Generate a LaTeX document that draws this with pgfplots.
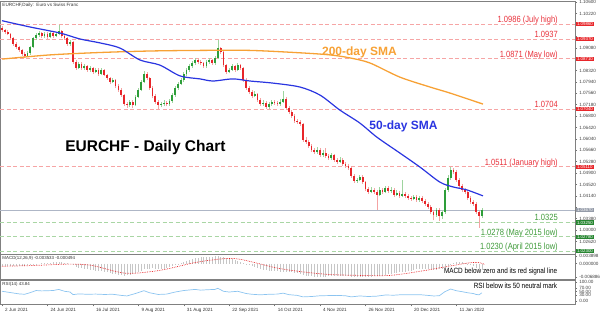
\documentclass[border=0pt]{standalone}
\usepackage{pgfplots}
\pgfplotsset{compat=1.18}
\usepackage{pgfplotstable}
\usepackage{fontspec}
\setmainfont{Liberation Sans}
\newfontfamily\narrowfont[FakeStretch=0.84]{Liberation Sans}
\definecolor{upbody}{HTML}{2E9E3A}
\definecolor{upwick}{HTML}{9ED49E}
\definecolor{dnbody}{HTML}{E8262A}
\definecolor{dnwick}{HTML}{F4A3A3}
\definecolor{reslvl}{HTML}{F6A5A5}
\definecolor{suplvl}{HTML}{A9D6A4}
\definecolor{restxt}{HTML}{E8303A}
\definecolor{suptxt}{HTML}{3F9B3A}
\definecolor{smablue}{HTML}{2A35E0}
\definecolor{smaorange}{HTML}{F7A135}
\definecolor{framec}{HTML}{808080}
\definecolor{rsiblue}{HTML}{8CC4F0}
\definecolor{histgray}{HTML}{C6C6C6}
\definecolor{curprice}{HTML}{AEB6C6}

\pgfplotstableread{
i o h l c
9 1.0880 1.0896 1.0876 1.0890
10 1.0890 1.0915 1.0885 1.0910
11 1.0910 1.0945 1.0906 1.0940
12 1.0940 1.0958 1.0934 1.0950
13 1.0950 1.0964 1.0944 1.0957
15 1.0947 1.0960 1.0942 1.0954
17 1.0944 1.0963 1.0940 1.0957
19 1.0947 1.0961 1.0943 1.0954
20 1.0954 1.0984 1.0950 1.0964
24 1.0920 1.0934 1.0914 1.0927
27 1.0840 1.0862 1.0836 1.0854
29 1.0840 1.0855 1.0835 1.0847
31 1.0834 1.0848 1.0828 1.0840
33 1.0827 1.0842 1.0822 1.0834
35 1.0820 1.0840 1.0816 1.0834
39 1.0794 1.0808 1.0790 1.0800
45 1.0717 1.0734 1.0710 1.0727
47 1.0717 1.0750 1.0712 1.0744
48 1.0744 1.0772 1.0740 1.0767
49 1.0767 1.0800 1.0762 1.0794
50 1.0794 1.0830 1.0790 1.0820
56 1.0717 1.0728 1.0710 1.0720
57 1.0720 1.0732 1.0712 1.0724
59 1.0720 1.0738 1.0714 1.0730
60 1.0730 1.0756 1.0725 1.0750
61 1.0750 1.0780 1.0745 1.0774
62 1.0774 1.0794 1.0768 1.0787
63 1.0787 1.0806 1.0782 1.0800
64 1.0800 1.0826 1.0795 1.0820
65 1.0820 1.0840 1.0814 1.0834
66 1.0834 1.0854 1.0828 1.0847
67 1.0847 1.0864 1.0842 1.0857
68 1.0857 1.0875 1.0852 1.0867
72 1.0847 1.0866 1.0842 1.0860
73 1.0860 1.0874 1.0855 1.0867
75 1.0857 1.0880 1.0852 1.0874
76 1.0874 1.0934 1.0870 1.0907
80 1.0827 1.0842 1.0822 1.0834
81 1.0834 1.0854 1.0829 1.0847
83 1.0834 1.0856 1.0830 1.0850
89 1.0747 1.0762 1.0742 1.0754
92 1.0720 1.0732 1.0714 1.0724
94 1.0710 1.0728 1.0705 1.0720
95 1.0720 1.0734 1.0715 1.0727
98 1.0720 1.0736 1.0715 1.0727
99 1.0727 1.0764 1.0722 1.0737
111 1.0560 1.0576 1.0554 1.0567
113 1.0550 1.0566 1.0545 1.0557
116 1.0540 1.0558 1.0535 1.0550
119 1.0527 1.0542 1.0522 1.0534
125 1.0464 1.0474 1.0458 1.0467
126 1.0467 1.0484 1.0462 1.0477
130 1.0427 1.0442 1.0422 1.0434
133 1.0417 1.0442 1.0412 1.0434
135 1.0427 1.0448 1.0422 1.0440
137 1.0430 1.0442 1.0424 1.0434
139 1.0417 1.0432 1.0412 1.0424
141 1.0414 1.0467 1.0410 1.0420
145 1.0404 1.0418 1.0399 1.0410
147 1.0400 1.0414 1.0395 1.0407
153 1.0350 1.0374 1.0344 1.0367
155 1.0347 1.0368 1.0338 1.0360
156 1.0360 1.0440 1.0355 1.0434
157 1.0434 1.0482 1.0428 1.0474
158 1.0474 1.0511 1.0468 1.0500
169 1.0347 1.0372 1.0340 1.0367
}\bull

\pgfplotstableread{
i o h l c
0 1.0975 1.0980 1.0962 1.0967
1 1.0967 1.0972 1.0955 1.0960
2 1.0960 1.0966 1.0949 1.0954
3 1.0954 1.0958 1.0935 1.0940
4 1.0940 1.0945 1.0914 1.0920
5 1.0920 1.0928 1.0905 1.0910
6 1.0910 1.0915 1.0894 1.0900
7 1.0900 1.0905 1.0881 1.0887
8 1.0887 1.0893 1.0874 1.0880
14 1.0957 1.0962 1.0941 1.0947
16 1.0954 1.0960 1.0938 1.0944
18 1.0957 1.0962 1.0942 1.0947
21 1.0964 1.0968 1.0942 1.0947
22 1.0947 1.0953 1.0934 1.0940
23 1.0940 1.0944 1.0915 1.0920
25 1.0927 1.0930 1.0853 1.0860
26 1.0860 1.0866 1.0834 1.0840
28 1.0854 1.0860 1.0834 1.0840
30 1.0847 1.0852 1.0828 1.0834
32 1.0840 1.0845 1.0821 1.0827
34 1.0834 1.0840 1.0815 1.0820
36 1.0834 1.0838 1.0812 1.0817
37 1.0817 1.0822 1.0801 1.0807
38 1.0807 1.0812 1.0788 1.0794
40 1.0800 1.0804 1.0774 1.0780
41 1.0780 1.0786 1.0761 1.0767
42 1.0767 1.0772 1.0744 1.0750
43 1.0750 1.0754 1.0713 1.0720
44 1.0720 1.0727 1.0708 1.0717
46 1.0727 1.0732 1.0707 1.0717
51 1.0820 1.0826 1.0800 1.0807
52 1.0807 1.0812 1.0768 1.0774
53 1.0774 1.0780 1.0740 1.0747
54 1.0747 1.0752 1.0720 1.0727
55 1.0727 1.0733 1.0705 1.0717
58 1.0724 1.0730 1.0712 1.0720
69 1.0867 1.0872 1.0854 1.0860
70 1.0860 1.0866 1.0850 1.0857
71 1.0857 1.0862 1.0841 1.0847
74 1.0867 1.0872 1.0851 1.0857
77 1.0907 1.0912 1.0888 1.0894
78 1.0894 1.0898 1.0844 1.0850
79 1.0850 1.0855 1.0820 1.0827
82 1.0847 1.0852 1.0828 1.0834
84 1.0850 1.0855 1.0834 1.0840
85 1.0840 1.0845 1.0794 1.0800
86 1.0800 1.0806 1.0768 1.0774
87 1.0774 1.0780 1.0754 1.0760
88 1.0760 1.0766 1.0741 1.0747
90 1.0754 1.0758 1.0728 1.0734
91 1.0734 1.0740 1.0714 1.0720
93 1.0724 1.0730 1.0704 1.0710
96 1.0727 1.0733 1.0718 1.0724
97 1.0724 1.0730 1.0713 1.0720
100 1.0737 1.0742 1.0702 1.0707
101 1.0707 1.0712 1.0688 1.0694
102 1.0694 1.0700 1.0674 1.0680
103 1.0680 1.0686 1.0658 1.0664
104 1.0664 1.0670 1.0654 1.0660
105 1.0660 1.0667 1.0648 1.0654
106 1.0654 1.0658 1.0594 1.0600
107 1.0600 1.0610 1.0588 1.0594
108 1.0594 1.0600 1.0574 1.0580
109 1.0580 1.0586 1.0561 1.0567
110 1.0567 1.0574 1.0553 1.0560
112 1.0567 1.0572 1.0544 1.0550
114 1.0557 1.0574 1.0541 1.0547
115 1.0547 1.0553 1.0534 1.0540
117 1.0550 1.0555 1.0528 1.0534
118 1.0534 1.0540 1.0521 1.0527
120 1.0534 1.0540 1.0514 1.0520
121 1.0520 1.0526 1.0508 1.0514
122 1.0514 1.0520 1.0500 1.0507
123 1.0507 1.0512 1.0474 1.0480
124 1.0480 1.0486 1.0458 1.0464
127 1.0477 1.0482 1.0454 1.0460
128 1.0460 1.0465 1.0431 1.0437
129 1.0437 1.0442 1.0421 1.0427
131 1.0434 1.0440 1.0421 1.0427
132 1.0427 1.0432 1.0367 1.0417
134 1.0434 1.0440 1.0421 1.0427
136 1.0440 1.0446 1.0424 1.0430
138 1.0434 1.0440 1.0411 1.0417
140 1.0424 1.0430 1.0408 1.0414
142 1.0420 1.0428 1.0408 1.0414
143 1.0414 1.0420 1.0400 1.0407
144 1.0407 1.0414 1.0398 1.0404
146 1.0410 1.0416 1.0394 1.0400
148 1.0407 1.0412 1.0391 1.0397
149 1.0397 1.0403 1.0381 1.0387
150 1.0387 1.0393 1.0370 1.0377
151 1.0377 1.0382 1.0352 1.0360
152 1.0360 1.0366 1.0332 1.0350
154 1.0367 1.0372 1.0330 1.0347
159 1.0500 1.0508 1.0486 1.0494
160 1.0494 1.0500 1.0460 1.0467
161 1.0467 1.0472 1.0440 1.0447
162 1.0447 1.0452 1.0428 1.0434
163 1.0434 1.0440 1.0420 1.0427
164 1.0427 1.0432 1.0400 1.0407
165 1.0407 1.0412 1.0388 1.0394
166 1.0394 1.0400 1.0380 1.0387
167 1.0387 1.0392 1.0354 1.0360
168 1.0360 1.0365 1.0308 1.0347
}\bear

\pgfplotstableread{
i m
0 -0.0012
1 -0.0013
2 -0.0013
3 -0.0014
4 -0.0014
5 -0.0015
6 -0.0015
7 -0.0013
8 -0.0012
9 -0.0010
10 -0.0008
11 -0.0005
12 -0.0003
13 0.0000
14 0.0002
15 0.0003
16 0.0004
17 0.0005
18 0.0006
19 0.0006
20 0.0006
21 0.0006
22 0.0004
23 0.0002
24 0.0000
25 -0.0010
26 -0.0020
27 -0.0023
28 -0.0025
29 -0.0028
30 -0.0030
31 -0.0032
32 -0.0034
33 -0.0036
34 -0.0038
35 -0.0040
36 -0.0043
37 -0.0046
38 -0.0049
39 -0.0052
40 -0.0055
41 -0.0057
42 -0.0060
43 -0.0062
44 -0.0060
45 -0.0058
46 -0.0055
47 -0.0049
48 -0.0043
49 -0.0036
50 -0.0030
51 -0.0028
52 -0.0027
53 -0.0025
54 -0.0027
55 -0.0028
56 -0.0030
57 -0.0026
58 -0.0022
59 -0.0019
60 -0.0015
61 -0.0009
62 -0.0002
63 0.0004
64 0.0010
65 0.0015
66 0.0019
67 0.0024
68 0.0028
69 0.0030
70 0.0031
71 0.0033
72 0.0034
73 0.0035
74 0.0036
75 0.0037
76 0.0038
77 0.0035
78 0.0032
79 0.0028
80 0.0025
81 0.0021
82 0.0016
83 0.0012
84 0.0008
85 0.0002
86 -0.0004
87 -0.0009
88 -0.0015
89 -0.0019
90 -0.0024
91 -0.0028
92 -0.0032
93 -0.0034
94 -0.0036
95 -0.0038
96 -0.0040
97 -0.0040
98 -0.0041
99 -0.0041
100 -0.0042
101 -0.0044
102 -0.0046
103 -0.0048
104 -0.0050
105 -0.0055
106 -0.0060
107 -0.0065
108 -0.0066
109 -0.0066
110 -0.0067
111 -0.0067
112 -0.0068
113 -0.0067
114 -0.0067
115 -0.0066
116 -0.0066
117 -0.0065
118 -0.0065
119 -0.0065
120 -0.0066
121 -0.0066
122 -0.0066
123 -0.0067
124 -0.0068
125 -0.0069
126 -0.0070
127 -0.0070
128 -0.0069
129 -0.0069
130 -0.0068
131 -0.0066
132 -0.0065
133 -0.0063
134 -0.0062
135 -0.0059
136 -0.0056
137 -0.0053
138 -0.0050
139 -0.0048
140 -0.0046
141 -0.0044
142 -0.0042
143 -0.0039
144 -0.0036
145 -0.0033
146 -0.0030
147 -0.0030
148 -0.0029
149 -0.0029
150 -0.0028
151 -0.0029
152 -0.0031
153 -0.0032
154 -0.0030
155 -0.0028
156 -0.0022
157 -0.0015
158 -0.0005
159 0.0005
160 0.0007
161 0.0008
162 0.0006
163 0.0004
164 -0.0002
165 -0.0008
166 -0.0015
167 -0.0022
168 -0.0029
169 -0.0035
}\macd

\pgfplotsset{
  mtpanel/.style={
    scale only axis, width=575pt, xmin=-0.7, xmax=201.8,
    axis line style={framec, line width=0.7pt},
    tick style={black!55, line width=0.4pt},
    ytick pos=right, yticklabel pos=right,
    tick align=outside, major tick length=2pt,
    xtick=\empty, scaled y ticks=false,
    yticklabel style={font=\fontsize{4.6}{5}\selectfont, text=black!75, xshift=-1.2pt},
    clip=false, /pgf/number format/assume math mode=true,
  },
  lvl/.style={line width=0.7pt, dash pattern=on 4pt off 2.5pt, forget plot},
  candle/.style={forget plot, color=#1, mark=none, draw=none,
    error bars/.cd, y dir=plus, y explicit, error mark=none},
}
\tikzset{
  boxlbl/.style={anchor=west, xshift=0.8pt, inner xsep=1pt, inner ysep=0.6pt,
    text=white, font=\fontsize{4.4}{4.6}\selectfont},
  lvltxt/.style={anchor=base east, yshift=1.6pt, inner sep=0pt,
    font=\narrowfont\fontsize{9}{10}\selectfont},
}

\begin{document}
\begin{tikzpicture}
\useasboundingbox (0,0) rectangle (600pt,312pt);

% ---------------- main price panel ----------------
\begin{axis}[mtpanel, at={(0pt,58pt)}, anchor=south west, height=253pt,
  ymin=1.02203, ymax=1.10637,
  ytick={1.0262,1.0300,1.0338,1.0376,1.0414,1.0452,1.0490,1.0528,1.0566,1.0604,1.0642,1.0680,1.0718,1.0756,1.0794,1.0832,1.0870,1.0908,1.0946,1.0984,1.1022,1.1060},
  yticklabels={1.02620,1.03000,1.03380,{},1.04140,1.04520,1.04900,1.05280,1.05660,1.06040,1.06420,1.06800,1.07180,1.07560,1.07940,1.08320,{},1.09080,{},{},1.10220,1.10600},
]
% level lines
\addplot[lvl, reslvl] coordinates {(-0.7,1.0986) (201.8,1.0986)};
\addplot[lvl, reslvl] coordinates {(-0.7,1.0937) (201.8,1.0937)};
\addplot[lvl, reslvl] coordinates {(-0.7,1.0871) (201.8,1.0871)};
\addplot[lvl, reslvl] coordinates {(-0.7,1.0704) (201.8,1.0704)};
\addplot[lvl, reslvl] coordinates {(-0.7,1.0511) (201.8,1.0511)};
\addplot[lvl, suplvl] coordinates {(-0.7,1.0325) (201.8,1.0325)};
\addplot[lvl, suplvl] coordinates {(-0.7,1.0278) (201.8,1.0278)};
\addplot[lvl, suplvl] coordinates {(-0.7,1.0230) (201.8,1.0230)};
\addplot[forget plot, curprice, line width=0.7pt] coordinates {(-0.7,1.0367) (201.8,1.0367)};

% wicks
\addplot[candle=upwick, error bar style={line width=0.55pt, color=upwick}]
  table[x=i, y=l, y error plus expr={\thisrow{h}-\thisrow{l}}] {\bull};
\addplot[candle=dnwick, error bar style={line width=0.55pt, color=dnwick}]
  table[x=i, y=l, y error plus expr={\thisrow{h}-\thisrow{l}}] {\bear};
% bodies
\addplot[candle=upbody, error bar style={line width=1.8pt, color=upbody}]
  table[x=i, y=o, y error plus expr={\thisrow{c}-\thisrow{o}}] {\bull};
\addplot[candle=dnbody, error bar style={line width=1.8pt, color=dnbody}]
  table[x=i, y=c, y error plus expr={\thisrow{o}-\thisrow{c}}] {\bear};

% 200-day SMA
\addplot[smaorange, line width=1.3pt, smooth, tension=0.5] coordinates {
(0,1.0870) (16.9,1.0884) (34.5,1.0892) (52.1,1.0897) (69.7,1.0899) (87.3,1.0899)
(104.9,1.0891) (115.5,1.0884) (122.5,1.0874) (129.6,1.0857) (140.1,1.0810)
(150.7,1.0777) (157.7,1.0757) (169.4,1.0720)};
% 50-day SMA
\addplot[smablue, line width=1.2pt, smooth, tension=0.5] coordinates {
(0,1.0998) (9.9,1.0977) (20.4,1.0957) (27.5,1.0937) (34.5,1.0924) (41.5,1.0907)
(48.6,1.0867) (55.6,1.0850) (62.7,1.0814) (69.7,1.0804) (74.3,1.0797) (81.3,1.0804)
(87.3,1.0797) (95.4,1.0790) (104.9,1.0777) (112,1.0750) (119,1.0700) (126,1.0657)
(132,1.0610) (140.1,1.0557) (147.2,1.0510) (154.2,1.0460) (158.8,1.0444)
(163.7,1.0434) (169.4,1.0414)};

% level texts
\node[lvltxt, text=restxt] at (axis cs:195.8,1.0986) {1.0986 (July high)};
\node[lvltxt, text=restxt] at (axis cs:195.8,1.0937) {1.0937};
\node[lvltxt, text=restxt] at (axis cs:195.8,1.0871) {1.0871 (May low)};
\node[lvltxt, text=restxt] at (axis cs:195.8,1.0704) {1.0704};
\node[lvltxt, text=restxt] at (axis cs:195.8,1.0511) {1.0511 (January high)};
\node[lvltxt, text=suptxt] at (axis cs:195.8,1.0325) {1.0325};
\node[lvltxt, text=suptxt] at (axis cs:195.8,1.0278) {1.0278 (May 2015 low)};
\node[lvltxt, text=suptxt] at (axis cs:195.8,1.0230) {1.0230 (April 2015 low)};

% right axis price boxes
\node[boxlbl, fill=dnbody] at (axis cs:201.8,1.0986) {1.09860};
\node[boxlbl, fill=dnbody] at (axis cs:201.8,1.0937) {1.09370};
\node[boxlbl, fill=dnbody] at (axis cs:201.8,1.0871) {1.08710};
\node[boxlbl, fill=dnbody] at (axis cs:201.8,1.0704) {1.07040};
\node[boxlbl, fill=dnbody] at (axis cs:201.8,1.0511) {1.05110};
\node[boxlbl, fill=curprice!85!black] at (axis cs:201.8,1.0367) {1.03670};
\node[boxlbl, fill=upbody!85!black] at (axis cs:201.8,1.0325) {1.03250};
\node[boxlbl, fill=upbody!85!black] at (axis cs:201.8,1.0278) {1.02780};
\node[boxlbl, fill=upbody!85!black] at (axis cs:201.8,1.0230) {1.02300};

% titles
\node[anchor=north west, inner sep=0pt, font=\fontsize{4.6}{5}\selectfont, text=black!80]
  at (rel axis cs:0.004,0.992) {EURCHF,Daily:\ \ Euro vs Swiss Franc};
\node[font=\bfseries\fontsize{15.5}{17}\selectfont, text=black] at (axis cs:50.5,1.0574) {EURCHF - Daily Chart};
\node[font=\bfseries\fontsize{12}{13}\selectfont, text=smaorange] at (axis cs:125.9,1.0894) {200-day SMA};
\node[font=\bfseries\fontsize{12}{13}\selectfont, text=smablue] at (axis cs:141.4,1.0647) {50-day SMA};
\end{axis}

% ---------------- MACD panel ----------------
\begin{axis}[mtpanel, at={(0pt,32.5pt)}, anchor=south west, height=25.5pt,
  ymin=-0.0082, ymax=0.0049,
  ytick={-0.006886,0,0.003898},
  yticklabels={-0.006886,0.000000,0.003898},
]
\addplot[ycomb, histgray, line width=0.5pt, forget plot] table[x=i, y=m] {\macd};
\addplot[dnbody, line width=0.7pt, densely dotted, smooth, tension=0.5] coordinates {
(0,-0.0014) (11.3,-0.0010) (23.6,-0.0003) (31.7,-0.0010) (43.7,-0.0050) (56,-0.0034)
(68,0.0005) (78.2,0.0025) (84.2,0.0021) (96.5,-0.0022) (104.9,-0.0041) (115,-0.0056)
(126,-0.0061) (136.6,-0.0061) (147.2,-0.0040) (154.2,-0.0022) (164.8,0.0004)
(168.3,0.0004) (170,-0.0005)};
\node[anchor=north west, inner sep=0pt, font=\fontsize{4.4}{5}\selectfont, text=black!80]
  at (rel axis cs:0.004,0.93) {MACD(12,26,9) -0.003533 -0.000494};
\node[anchor=east, inner sep=0pt, font=\narrowfont\fontsize{7.6}{8}\selectfont, text=black]
  at (axis cs:195.6,-0.0043) {MACD below zero and its red signal line};
\end{axis}

% ---------------- RSI panel ----------------
\begin{axis}[mtpanel, at={(0pt,7.7pt)}, anchor=south west, height=24pt,
  ymin=-17.6, ymax=110.7,
  ytick={0,30,50,70,100},
  yticklabels={0.00,30.00,50.00,70.00,100.00},
  xtick={0,16,32,48,64,80,96,112,128,144,160},
  xticklabels={2 Jun 2021,24 Jun 2021,16 Jul 2021,9 Aug 2021,31 Aug 2021,22 Sep 2021,14 Oct 2021,4 Nov 2021,26 Nov 2021,20 Dec 2021,11 Jan 2022},
  xtick pos=bottom,
  xticklabel style={anchor=north west, xshift=-0.3pt, yshift=1.4pt, font=\fontsize{4.6}{5}\selectfont, text=black!80},
]
\addplot[rsiblue, line width=0.7pt] coordinates {
(0,52) (3,45) (6,38) (8,36) (10,45) (12,56) (14,54) (16,55) (18,56) (20,62) (22,52)
(24,48) (25,34) (27,38) (30,36) (33,37) (36,35) (39,36) (42,30) (44,27) (47,40) (50,55)
(52,44) (55,35) (58,37) (61,48) (64,56) (68,62) (70,58) (72,60) (75,62) (76,68) (78,52)
(80,48) (83,52) (86,40) (88,36) (91,33) (94,36) (97,37) (99,42) (101,34) (104,30)
(106,22) (109,24) (112,28) (115,29) (118,30) (121,28) (123,22) (126,27) (129,24)
(132,26) (135,32) (138,31) (141,34) (144,33) (147,34) (150,30) (152,27) (154,28)
(156,50) (158,64) (160,55) (162,50) (164,44) (166,40) (167,35) (168,33) (169,43.84)};
\node[anchor=north west, inner sep=0pt, font=\fontsize{4.4}{5}\selectfont, text=black!80]
  at (rel axis cs:0.004,0.93) {RSI(14) 43.84};
\node[anchor=east, inner sep=0pt, font=\narrowfont\fontsize{7.6}{8}\selectfont, text=black]
  at (axis cs:195.6,80) {RSI below its 50 neutral mark};
\end{axis}
\end{tikzpicture}
\end{document}
